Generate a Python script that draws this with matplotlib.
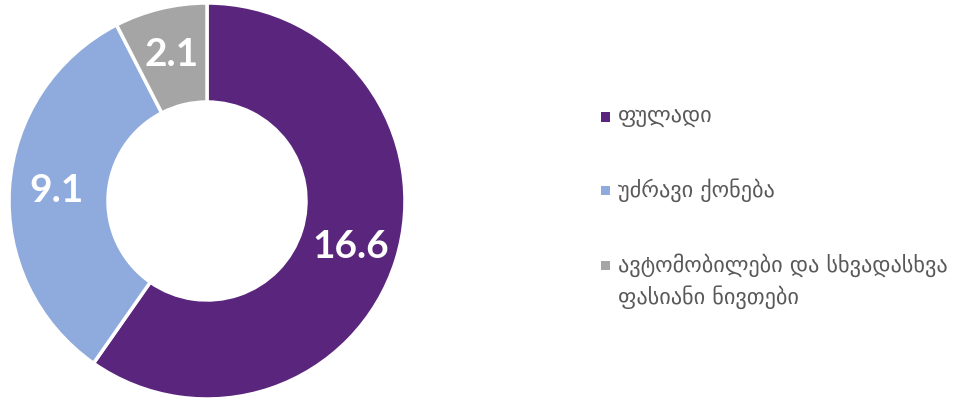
import matplotlib
matplotlib.use("Agg")
import matplotlib.pyplot as plt
from matplotlib.patches import Rectangle

labels = ["ფულადი", "უძრავი ქონება", "ავტომობილები და სხვადასხვა\nფასიანი ნივთები"]
values = [16.6, 9.1, 2.1]
colors = ["#5A267D", "#8FAADC", "#A5A5A5"]

W, H = 962, 401
fig = plt.figure(figsize=(W / 100, H / 100), dpi=100)
cx, cy, R = 207, 201, 198
ax = fig.add_axes([(cx - 200) / W, (H - cy - 200) / H, 400 / W, 400 / H])

r = R / 200
wedges, texts = ax.pie(values, colors=colors, startangle=90, counterclock=False,
                       radius=r, wedgeprops=dict(width=r * 0.5, edgecolor="white", linewidth=2.5),
                       labels=[f"{v:.1f}" for v in values], labeldistance=0.76,
                       textprops=dict(color="white", fontsize=28, fontweight="bold", family="Lato"))
for t in texts:
    t.set_ha("center")
    t.set_va("center")
ax.set_xlim(-1, 1)
ax.set_ylim(-1, 1)
ax.set_aspect("equal")
ax.axis("off")

# legend
ys = [117, 190, 265]
for lab, col, y in zip(labels, colors, ys):
    s = 9
    fig.add_artist(Rectangle(((605 - s / 2) / W, (H - y - s / 2) / H), s / W, s / H,
                             transform=fig.transFigure, facecolor=col, edgecolor="none"))
    fig.text(618 / W, (H - y) / H + (12 / H if "\n" in lab else 0), lab, fontsize=16,
             color="#595959", family="DejaVu Sans",
             ha="left", va="top" if "\n" in lab else "center", linespacing=1.45)

fig.savefig("out.png", dpi=100)
